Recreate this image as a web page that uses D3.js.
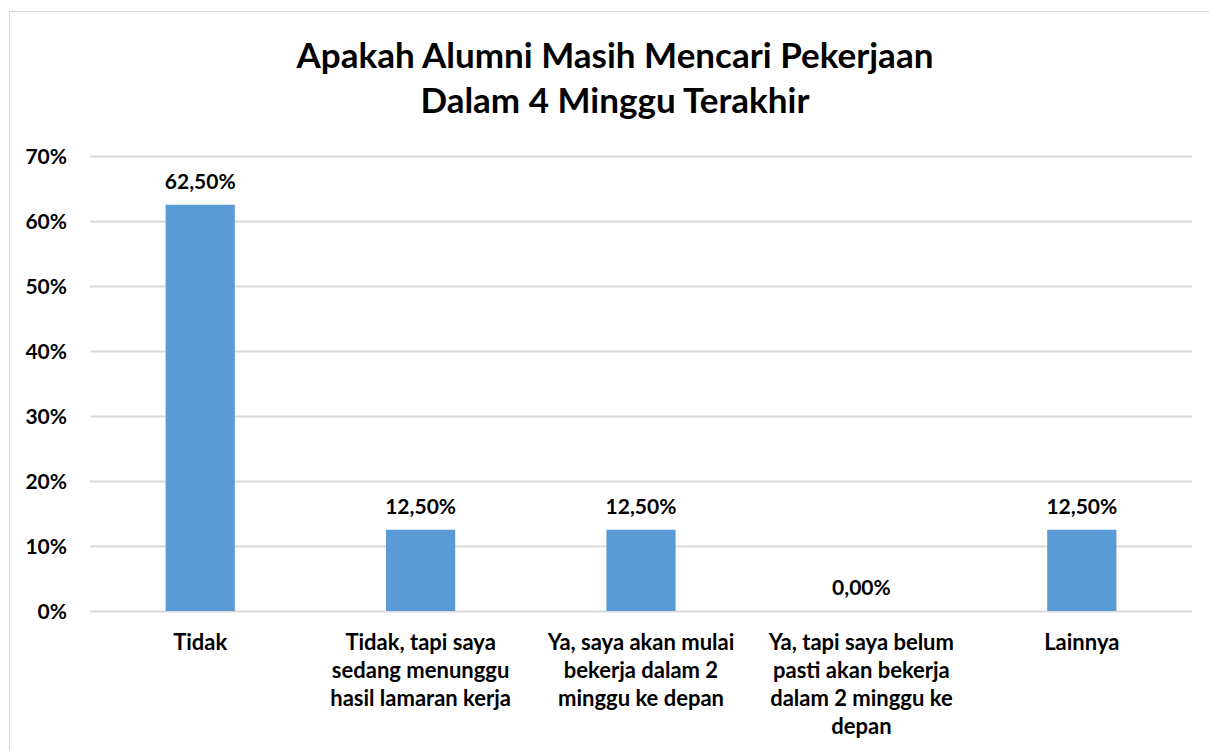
<!DOCTYPE html>
<html>
<head>
<meta charset="utf-8">
<script src="https://cdn.jsdelivr.net/npm/d3@7"></script>
<style>
  body { margin: 0; background: #fff; }
  svg { display: block; font-family: Lato, "Open Sans", sans-serif; }
</style>
</head>
<body>
<svg id="chart" width="1209" height="751"></svg>
<script>
const categories = [
  ["Tidak"],
  ["Tidak, tapi saya", "sedang menunggu", "hasil lamaran kerja"],
  ["Ya, saya akan mulai", "bekerja dalam 2", "minggu ke depan"],
  ["Ya, tapi saya belum", "pasti akan bekerja", "dalam 2 minggu ke", "depan"],
  ["Lainnya"]
];
const values = [62.5, 12.5, 12.5, 0, 12.5];
const ticks = [0, 10, 20, 30, 40, 50, 60, 70];
const titleLines = ["Apakah Alumni Masih Mencari Pekerjaan", "Dalam 4 Minggu Terakhir"];

const svg = d3.select("#chart");
const margin = { top: 156, right: 17, bottom: 140, left: 90 };
const width = 1209, height = 751;

// chart frame
svg.append("rect")
  .attr("x", 9.5).attr("y", 11.5)
  .attr("width", 1220).attr("height", 760)
  .attr("fill", "none").attr("stroke", "#d9d9d9");

const x = d3.scaleBand()
  .domain(d3.range(values.length))
  .range([margin.left, width - margin.right])
  .paddingInner(0.686).paddingOuter(0.343);

const y = d3.scaleLinear().domain([0, 70]).range([height - margin.bottom, margin.top]);

// title
svg.append("text")
  .attr("x", 615).attr("y", 68)
  .attr("text-anchor", "middle")
  .style("font-size", "35px").style("font-weight", "bold").style("fill", "#000")
  .selectAll("tspan").data(titleLines).join("tspan")
  .attr("x", 615).attr("dy", (d, i) => i ? 45 : 0)
  .text(d => d);

// gridlines
svg.append("g").selectAll("line").data(ticks).join("line")
  .attr("x1", margin.left).attr("x2", width - margin.right)
  .attr("y1", d => y(d) + 0.5).attr("y2", d => y(d) + 0.5)
  .attr("stroke", "#d9d9d9").attr("stroke-width", 2);

// y tick labels
svg.append("g").selectAll("text").data(ticks).join("text")
  .attr("x", 67).attr("y", d => y(d)).attr("dy", "0.36em")
  .attr("text-anchor", "end")
  .style("font-size", "21px").style("font-weight", "bold")
  .text(d => d + "%");

// bars
svg.append("g").selectAll("rect").data(values).join("rect")
  .attr("x", (d, i) => x(i)).attr("width", x.bandwidth())
  .attr("y", d => y(d)).attr("height", d => y(0) - y(d))
  .attr("fill", "#5b9bd5");

// data labels
svg.append("g").selectAll("text").data(values).join("text")
  .attr("x", (d, i) => x(i) + x.bandwidth() / 2)
  .attr("y", d => y(d) - 16)
  .attr("text-anchor", "middle")
  .style("font-size", "21px").style("font-weight", "bold")
  .text(d => d.toFixed(2).replace(".", ",") + "%");

// category labels
const cat = svg.append("g").selectAll("text").data(categories).join("text")
  .attr("text-anchor", "middle")
  .style("font-size", "22px").style("font-weight", "bold");
cat.selectAll("tspan").data((d, i) => d.map(t => ({ t, i }))).join("tspan")
  .attr("x", d => x(d.i) + x.bandwidth() / 2)
  .attr("y", (d, j) => 650 + j * 28)
  .text(d => d.t);
</script>
</body>
</html>
